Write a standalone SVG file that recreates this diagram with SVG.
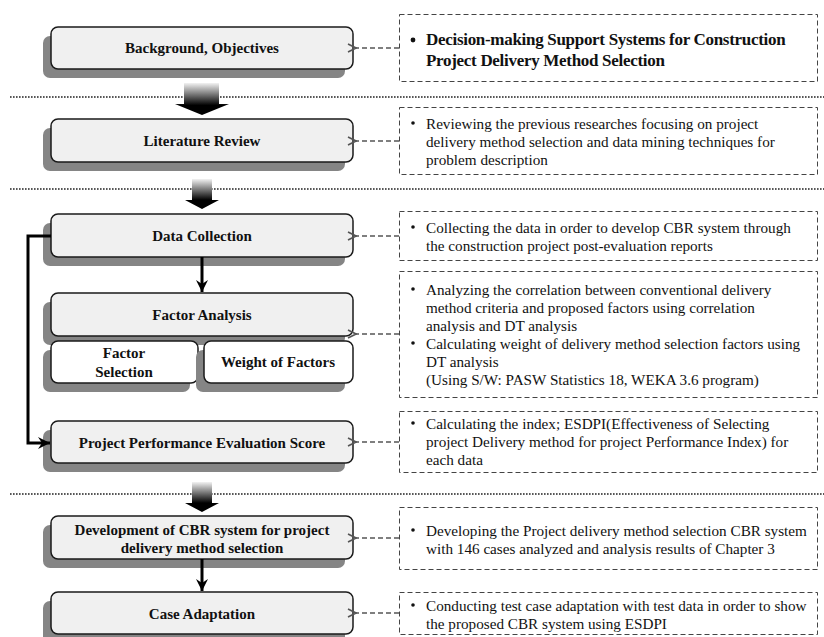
<svg xmlns="http://www.w3.org/2000/svg" width="824" height="637" viewBox="0 0 824 637">
<style>
.box{fill:#f0f0f0;stroke:#1a1a1a;stroke-width:1.5}
.sub{fill:#ffffff;stroke:#1a1a1a;stroke-width:1.5}
.shd{fill:#858585}
.lt{font-family:"Liberation Serif","Times New Roman",serif;font-weight:bold;font-size:15px;fill:#111;text-anchor:middle}
.rt{font-family:"Liberation Serif","Times New Roman",serif;font-size:15.2px;fill:#111}
.rtb{font-family:"Liberation Serif","Times New Roman",serif;font-size:17px;font-weight:bold;fill:#111;letter-spacing:-0.3px}
.dbox{fill:none;stroke:#444;stroke-width:1;stroke-dasharray:5 3}
.dconn{fill:none;stroke:#555;stroke-width:1.3;stroke-dasharray:5 3}
.sep{stroke:#222;stroke-width:1.6;stroke-dasharray:1.6 1.4}
.flow{stroke:#000;stroke-width:3;fill:none}
</style>
<defs>
<linearGradient id="g1" x1="0" y1="0" x2="0" y2="1">
<stop offset="0" stop-color="#f2f2f2"/>
<stop offset="0.7" stop-color="#000"/>
<stop offset="1" stop-color="#000"/>
</linearGradient>
<marker id="open" markerWidth="10" markerHeight="10" refX="1" refY="5" orient="auto" markerUnits="userSpaceOnUse">
<path d="M9,1 L1,5 L9,9" fill="none" stroke="#555" stroke-width="1.6"/>
</marker>
<marker id="solid" markerWidth="14" markerHeight="14" refX="12" refY="7" orient="auto" markerUnits="userSpaceOnUse">
<path d="M0,1 L12,7 L0,13 L4,7 Z" fill="#000"/>
</marker>
</defs>

<g id="separators">
<line class="sep" x1="10" y1="97" x2="824" y2="97"/>
<line class="sep" x1="10" y1="189" x2="824" y2="189"/>
<line class="sep" x1="10" y1="494" x2="824" y2="494"/>
</g>

<g id="big-arrows">
<path d="M184,83 H219 V104 H229 L202,115 L175,104 H184 Z" fill="url(#g1)"/>
<path d="M192,179 H212 V200 H219 L202,209 L185,200 H192 Z" fill="url(#g1)"/>
<path d="M192,482 H212 V503 H219 L202,512 L185,503 H192 Z" fill="url(#g1)"/>
</g>

<g id="n-background">
<rect class="shd" x="43" y="36" width="302" height="42" rx="7"/>
<rect class="box" x="51" y="27" width="302" height="42" rx="7"/>
<text class="lt" x="202" y="53">Background, Objectives</text>
</g>
<g id="n-literature">
<rect class="shd" x="43" y="128" width="302" height="43" rx="7"/>
<rect class="box" x="51" y="119" width="302" height="43" rx="7"/>
<text class="lt" x="202" y="146">Literature Review</text>
</g>
<g id="n-datacollection">
<rect class="shd" x="43" y="223" width="302" height="43" rx="7"/>
<rect class="box" x="51" y="214" width="302" height="43" rx="7"/>
<text class="lt" x="202" y="241">Data Collection</text>
</g>
<g id="n-factoranalysis">
<rect class="shd" x="43" y="302" width="302" height="43" rx="7"/>
<rect class="box" x="51" y="293" width="302" height="43" rx="7"/>
<text class="lt" x="202" y="320">Factor Analysis</text>
</g>
<g id="n-factorselection">
<rect class="shd" x="43" y="350" width="147" height="42" rx="7"/>
<rect class="sub" x="51" y="341" width="147" height="42" rx="7"/>
<text class="lt" x="124" y="358">Factor</text>
<text class="lt" x="124" y="377">Selection</text>
</g>
<g id="n-weight">
<rect class="shd" x="196" y="350" width="149" height="42" rx="7"/>
<rect class="sub" x="204" y="341" width="149" height="42" rx="7"/>
<text class="lt" x="278" y="367">Weight of Factors</text>
</g>
<g id="n-performance">
<rect class="shd" x="43" y="430" width="302" height="42" rx="7"/>
<rect class="box" x="51" y="421" width="302" height="42" rx="7"/>
<text class="lt" x="202" y="448">Project Performance Evaluation Score</text>
</g>
<g id="n-development">
<rect class="shd" x="43" y="525" width="302" height="43" rx="7"/>
<rect class="box" x="51" y="516" width="302" height="43" rx="7"/>
<text class="lt" x="202" y="535">Development of CBR system for project</text>
<text class="lt" x="202" y="553">delivery method selection</text>
</g>
<g id="n-caseadaptation">
<rect class="shd" x="43" y="601" width="302" height="42" rx="7"/>
<rect class="box" x="51" y="592" width="302" height="42" rx="7"/>
<text class="lt" x="202" y="619">Case Adaptation</text>
</g>

<g id="d-background">
<rect class="dbox" x="399.5" y="14.5" width="418" height="67"/>
<circle cx="413" cy="40" r="2.4" fill="#111"/>
<text class="rtb" x="426" y="45">Decision-making Support Systems for Construction</text>
<text class="rtb" x="426" y="66">Project Delivery Method Selection</text>
</g>
<g id="d-literature">
<rect class="dbox" x="399.5" y="107.5" width="418" height="67"/>
<circle cx="413" cy="123" r="1.8" fill="#111"/>
<text class="rt" x="426" y="129">Reviewing the previous researches focusing on project</text>
<text class="rt" x="426" y="147">delivery method selection and data mining techniques for</text>
<text class="rt" x="426" y="165">problem description</text>
</g>
<g id="d-datacollection">
<rect class="dbox" x="399.5" y="211.5" width="418" height="49"/>
<circle cx="413" cy="227" r="1.8" fill="#111"/>
<text class="rt" x="426" y="233">Collecting the data in order to develop CBR system through</text>
<text class="rt" x="426" y="251">the construction project post-evaluation reports</text>
</g>
<g id="d-factoranalysis">
<rect class="dbox" x="399.5" y="271.5" width="418" height="126"/>
<circle cx="413" cy="289" r="1.8" fill="#111"/>
<text class="rt" x="426" y="295">Analyzing the correlation between conventional delivery</text>
<text class="rt" x="426" y="313">method criteria and proposed factors using correlation</text>
<text class="rt" x="426" y="331">analysis and DT analysis</text>
<circle cx="413" cy="343" r="1.8" fill="#111"/>
<text class="rt" x="426" y="349">Calculating weight of delivery method selection factors using</text>
<text class="rt" x="426" y="367">DT analysis</text>
<text class="rt" x="426" y="385">(Using S/W: PASW Statistics 18, WEKA 3.6 program)</text>
</g>
<g id="d-performance">
<rect class="dbox" x="399.5" y="411.5" width="418" height="61"/>
<circle cx="413" cy="423" r="1.8" fill="#111"/>
<text class="rt" x="426" y="429">Calculating the index; ESDPI(Effectiveness of Selecting</text>
<text class="rt" x="426" y="447">project Delivery method for project Performance Index) for</text>
<text class="rt" x="426" y="465">each data</text>
</g>
<g id="d-development">
<rect class="dbox" x="399.5" y="507.5" width="418" height="62"/>
<circle cx="413" cy="530" r="1.8" fill="#111"/>
<text class="rt" x="426" y="536">Developing the Project delivery method selection CBR system</text>
<text class="rt" x="426" y="554">with 146 cases analyzed and analysis results of Chapter 3</text>
</g>
<g id="d-caseadaptation">
<rect class="dbox" x="399.5" y="592.5" width="418" height="42"/>
<circle cx="413" cy="605" r="1.8" fill="#111"/>
<text class="rt" x="426" y="611">Conducting test case adaptation with test data in order to show</text>
<text class="rt" x="426" y="629">the proposed CBR system using ESDPI</text>
</g>

<g id="connectors">
<line class="dconn" x1="399" y1="48" x2="356" y2="48" marker-end="url(#open)"/>
<line class="dconn" x1="399" y1="141" x2="356" y2="141" marker-end="url(#open)"/>
<line class="dconn" x1="399" y1="236" x2="356" y2="236" marker-end="url(#open)"/>
<line class="dconn" x1="399" y1="334" x2="356" y2="334" marker-end="url(#open)"/>
<line class="dconn" x1="399" y1="442" x2="356" y2="442" marker-end="url(#open)"/>
<line class="dconn" x1="399" y1="538" x2="356" y2="538" marker-end="url(#open)"/>
<line class="dconn" x1="399" y1="613" x2="356" y2="613" marker-end="url(#open)"/>
<line x1="202" y1="257" x2="202" y2="292" stroke="#000" stroke-width="3" marker-end="url(#solid)"/>
<line x1="202" y1="559" x2="202" y2="591" stroke="#000" stroke-width="3" marker-end="url(#solid)"/>
<polyline class="flow" points="51,236 28,236 28,443 50,443" marker-end="url(#solid)"/>
</g>
</svg>
